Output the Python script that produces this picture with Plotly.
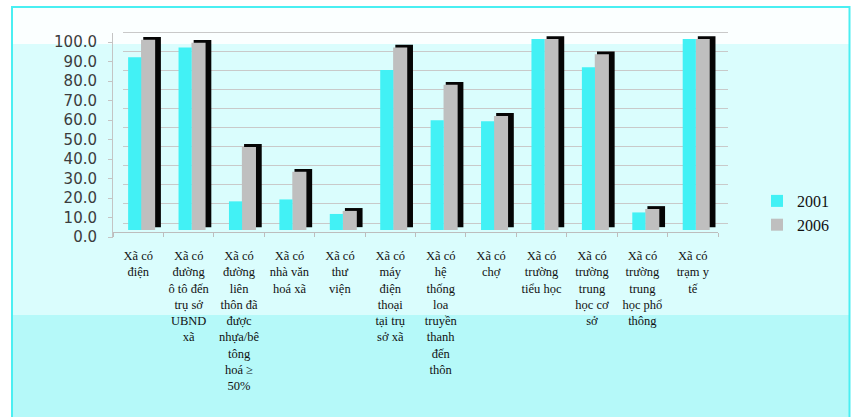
import plotly.graph_objects as go

# Commune infrastructure indicators (% of communes), 2001 vs 2006
categories = [
    "Xã có<br>điện",
    "Xã có<br>đường<br>ô tô đến<br>trụ sở<br>UBND<br>xã",
    "Xã có<br>đường<br>liên<br>thôn đã<br>được<br>nhựa/bê<br>tông<br>hoá ≥<br>50%",
    "Xã có<br>nhà văn<br>hoá xã",
    "Xã có<br>thư<br>viện",
    "Xã có<br>máy<br>điện<br>thoại<br>tại trụ<br>sở xã",
    "Xã có<br>hệ<br>thống<br>loa<br>truyền<br>thanh<br>đến<br>thôn",
    "Xã có<br>chợ",
    "Xã có<br>trường<br>tiểu học",
    "Xã có<br>trường<br>trung<br>học cơ<br>sở",
    "Xã có<br>trường<br>trung<br>học phổ<br>thông",
    "Xã có<br>trạm y<br>tế",
]
values_2001 = [90.5, 95.5, 15.0, 16.0, 8.4, 83.8, 57.5, 57.0, 100.0, 85.2, 9.2, 100.0]
values_2006 = [99.6, 98.0, 43.5, 30.5, 10.0, 95.5, 76.0, 59.7, 100.0, 92.0, 11.0, 100.0]
series_names = ["2001", "2006"]
y_tickvals = [0, 10, 20, 30, 40, 50, 60, 70, 80, 90, 100]
y_ticktext = [f"{v:.1f}" for v in y_tickvals]

W, H = 851, 417


def fx(p):
    return p / W


def fy(p):
    return 1 - p / H


def value_range(zero_px, px_per_unit, top_px, bottom_px):
    """Axis range that puts 0 at zero_px over a domain spanning top_px..bottom_px."""
    return [(zero_px - bottom_px) / px_per_unit, (zero_px - top_px) / px_per_unit]


# columns: value 0 at pixel 230, 1.91 px per unit
col_top, col_bottom = 30.0, 232.0
col_range = value_range(230.0, 1.91, col_top, col_bottom)
# back wall gridlines: same scale, 7 px higher
grid_range = value_range(223.0, 1.91, col_top, col_bottom)
# front value axis (labels): 0 at 237, 1.95 px per unit
lab_top, lab_bottom = 33.0, 238.0
lab_range = value_range(237.0, 1.95, lab_top, lab_bottom)

CYAN = "#42f1f5"
GREY = "#bfbfbf"
n_cat = len(categories)

fig = go.Figure()

# back-wall gridlines live on their own subplot (x, y)
fig.add_trace(go.Scatter(x=[None], y=[None], xaxis="x", yaxis="y", mode="lines",
                         showlegend=False, hoverinfo="skip"))

# dark side face of the 2006 columns
fig.add_trace(go.Bar(
    x=categories, y=values_2006, base=1.5, xaxis="x2", yaxis="y2",
    marker=dict(color="#050505", line=dict(width=0)),
    offset=0.10, width=0.35, showlegend=False, hoverinfo="skip",
))
fig.add_trace(go.Bar(
    x=categories, y=values_2006, name=series_names[1], xaxis="x2", yaxis="y2",
    marker=dict(color=GREY, line=dict(width=0)),
    offset=0.056, width=0.28, legendrank=2,
))
fig.add_trace(go.Bar(
    x=categories, y=values_2001, name=series_names[0], xaxis="x2", yaxis="y2",
    marker=dict(color=CYAN, line=dict(width=0)),
    offset=-0.20, width=0.26, legendrank=1,
))

# front value axis subplot (x3, y3) carries the tick labels
fig.add_trace(go.Scatter(x=[None], y=[None], xaxis="x3", yaxis="y3", mode="lines",
                         showlegend=False, hoverinfo="skip"))

shapes = [
    dict(type="rect", xref="paper", yref="paper", layer="below",
         x0=fx(12), x1=fx(850), y0=fy(7), y1=fy(44),
         fillcolor="#fbffff", line=dict(width=0)),
    dict(type="rect", xref="paper", yref="paper", layer="below",
         x0=fx(12), x1=fx(850), y0=fy(44), y1=fy(315),
         fillcolor="#dafdfd", line=dict(width=0)),
    dict(type="rect", xref="paper", yref="paper", layer="below",
         x0=fx(12), x1=fx(850), y0=fy(315), y1=fy(417),
         fillcolor="#b5f9f9", line=dict(width=0)),
    dict(type="rect", xref="paper", yref="paper", layer="below",
         x0=fx(12), x1=fx(849.5), y0=fy(7), y1=fy(420),
         fillcolor="rgba(0,0,0,0)", line=dict(color="#4aeff2", width=2)),
]

col_dom = [fy(col_bottom), fy(col_top)]

fig.update_layout(
    width=W, height=H,
    margin=dict(l=0, r=0, t=0, b=0, pad=0),
    template="none",
    paper_bgcolor="white",
    plot_bgcolor="rgba(0,0,0,0)",
    barmode="overlay",
    shapes=shapes,
    showlegend=True,
    legend=dict(
        x=fx(757), y=fy(184), xanchor="left", yanchor="top",
        bgcolor="rgba(0,0,0,0)", borderwidth=0,
        font=dict(family="Liberation Serif", size=16, color="#111"),
        traceorder="normal", itemwidth=30, tracegroupgap=6,
    ),
    # gridline subplot, shifted up/right like a back wall
    xaxis=dict(domain=[fx(123), fx(728)], anchor="y", visible=False,
               range=[0, 1], fixedrange=True),
    yaxis=dict(domain=col_dom, anchor="x", range=grid_range,
               tickvals=y_tickvals, showticklabels=False, ticks="",
               showgrid=True, gridcolor="#c9c9c9", gridwidth=1,
               zeroline=False, showline=False, automargin=False),
    # column subplot
    xaxis2=dict(domain=[fx(113), fx(718)], anchor="y2", type="category",
                categoryorder="array", categoryarray=categories,
                range=[-0.5, n_cat - 0.5],
                showline=True, linecolor="#bdbdbd", linewidth=1,
                ticks="outside", tickson="boundaries", ticklen=4,
                tickcolor="#bdbdbd", showgrid=False, zeroline=False,
                tickfont=dict(family="Liberation Serif", size=12.5, color="#111"),
                ticklabelstandoff=12, automargin=False, tickangle=0),
    yaxis2=dict(domain=col_dom, anchor="x2", range=col_range,
                showticklabels=False, ticks="", showgrid=False,
                zeroline=False, showline=False, automargin=False),
    # front value axis with labels
    xaxis3=dict(domain=[fx(113), fx(718)], anchor="y3", visible=False,
                range=[0, 1], fixedrange=True),
    yaxis3=dict(domain=[fy(lab_bottom), fy(lab_top)], anchor="x3", side="left",
                range=lab_range,
                tickvals=y_tickvals, ticktext=y_ticktext,
                showline=True, linecolor="#c4c4c4", linewidth=1,
                ticks="outside", ticklen=4, tickcolor="#c4c4c4",
                showgrid=False, zeroline=False,
                tickfont=dict(family="DejaVu Sans", size=15, color="#3c3c3c"),
                ticklabelstandoff=8, automargin=False),
)

fig.write_html("out.html")
